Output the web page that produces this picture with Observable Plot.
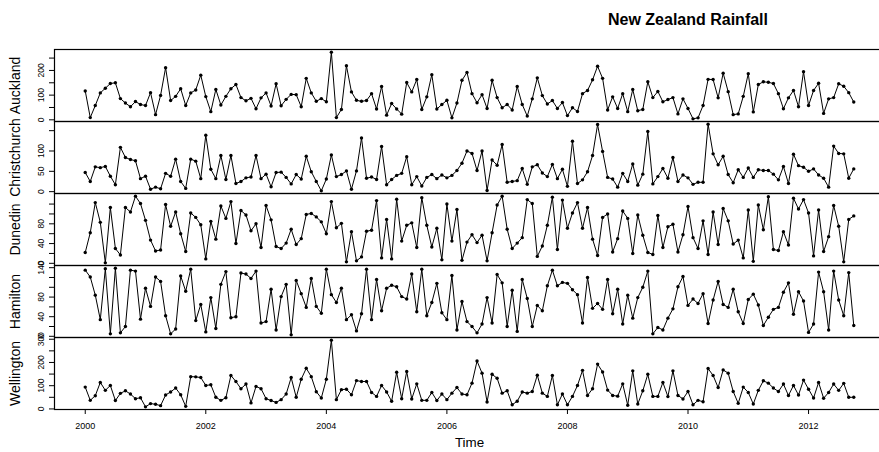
<!DOCTYPE html>
<html><head><meta charset="utf-8">
<script src="https://cdn.jsdelivr.net/npm/d3@7"></script>
<script src="https://cdn.jsdelivr.net/npm/@observablehq/plot@0.6"></script>
<style>
body{margin:0;background:#fff;font-family:"Liberation Sans",Arial,Helvetica,sans-serif;}
#chart{position:relative;width:879px;height:452px;overflow:hidden;background:#fff;}
#title{position:absolute;left:538px;width:300px;top:10px;text-align:center;font-weight:bold;font-size:16px;line-height:20px;color:#000;}
.panel{position:absolute;left:0;}
</style></head><body>
<div id="chart"><div id="title">New Zealand Rainfall</div></div>
<script>
// Monthly rainfall, Jan 2000 – Oct 2012
const startYear = 2000;
const cityNames = ["Auckland", "Christchurch", "Dunedin", "Hamilton", "Wellington"];

const auckland = [117,9,58,109,128,147,150,86,68,53,74,62,58,110,21,99,211,78,95,126,58,109,121,181,94,33,123,60,95,126,143,90,77,87,45,89,109,56,146,
57,83,103,102,53,168,109,75,86,73,274,9,42,219,113,79,75,78,106,44,135,19,66,44,23,151,113,163,42,93,183,44,62,79,8,68,160,192,106,69,102,46,160,90,49,62,40,135,62,15,85,170,98,64,78,46,70,17,49,34,
106,119,162,217,168,40,93,46,106,33,123,37,42,154,90,115,73,82,90,24,85,46,4,8,58,164,163,89,189,114,21,24,95,187,32,143,154,152,147,106,45,89,119,53,195,58,119,148,26,85,90,146,136,110,72];

const christchurch = [47,25,61,59,62,38,17,109,84,79,76,32,38,6,11,7,45,38,80,25,8,80,75,32,139,55,32,89,30,89,20,25,34,36,89,32,43,12,47,
48,35,19,42,31,87,49,25,2,31,90,37,42,51,6,51,132,33,36,30,111,17,30,40,45,86,17,37,14,35,42,32,41,34,40,52,70,100,94,52,100,3,78,65,116,23,25,27,57,18,61,66,46,37,67,32,55,13,124,20,
29,49,89,165,99,35,31,11,45,25,68,16,43,148,19,37,57,33,84,25,41,34,18,23,23,166,93,66,87,42,22,54,35,58,35,54,52,52,43,29,62,20,92,64,60,50,56,41,33,11,112,94,93,33,56];

const dunedin = [22,62,123,83,1,113,30,17,113,104,136,121,87,47,25,27,119,75,104,60,24,102,93,78,9,85,49,116,91,125,40,107,98,66,80,32,117,88,34,
30,41,69,38,50,99,101,94,84,60,125,72,81,3,64,5,13,65,67,127,11,89,9,130,45,77,82,32,133,77,33,71,7,120,45,109,6,43,58,42,57,5,62,118,136,69,30,41,52,129,121,14,35,77,134,28,128,71,102,123,
71,113,49,16,93,100,23,50,106,91,20,98,57,22,18,97,32,74,79,23,58,115,52,30,86,18,104,38,111,86,39,47,11,108,4,118,68,135,28,26,64,37,132,110,129,102,15,108,24,54,117,75,3,89,96];

const hamilton = [135,121,84,34,138,5,139,7,20,135,133,35,98,61,121,112,42,5,15,123,92,137,32,65,9,79,16,106,132,38,40,129,127,118,133,27,30,96,13,
81,106,3,114,87,59,118,61,47,137,85,69,98,34,44,11,46,137,34,116,52,98,104,101,81,76,127,50,137,42,69,108,48,34,124,13,71,30,20,7,25,79,27,126,109,20,94,10,116,77,20,63,52,103,135,103,110,108,95,85,
27,120,57,67,55,116,46,96,25,84,37,79,100,133,5,18,13,37,56,101,122,63,76,67,87,26,74,112,65,59,96,50,26,75,86,64,22,39,55,59,90,109,45,91,72,8,25,131,91,13,133,74,42,130,22];

const wellington = [94,37,57,114,80,101,36,67,78,64,44,48,9,23,20,14,60,73,90,61,11,139,138,135,101,104,50,37,48,144,118,87,107,26,97,87,44,36,28,
40,64,135,50,128,175,139,74,47,128,296,40,83,85,61,122,118,118,71,54,101,73,33,158,44,161,43,108,37,37,71,36,64,40,68,92,64,61,111,206,154,30,149,132,68,78,18,33,73,68,75,145,68,54,144,18,64,18,54,101,
166,58,87,193,159,81,58,55,108,16,164,21,78,149,54,54,114,53,164,58,43,75,18,37,31,174,144,92,168,154,75,24,94,71,21,80,121,111,90,75,107,58,101,60,124,85,47,114,46,71,107,80,110,50,50];

const seriesValues = [auckland, christchurch, dunedin, hamilton, wellington];

// tick marks and tick labels per panel
const yTickMarks = [
  [0,50,100,150,200,250],
  [0,50,100,150],
  [0,20,40,60,80,100,120],
  [0,20,40,60,80,100,120,140],
  [0,50,100,150,200,250,300]
];
const yTickLabels = [
  [0,100,200],
  [0,50,100],
  [0,40,80],
  [0,40,80,140],
  [0,100,200,300]
];
const xTickLabels = [2000,2002,2004,2006,2008,2010,2012];
const xTitle = "Time";

const chart = document.getElementById("chart");
const nMonths = auckland.length;
const tEnd = startYear + (nMonths - 1) / 12;
const tPad = 0.04 * (tEnd - startYear);
const xDomain = [startYear - tPad, tEnd + tPad];

const panelTop = 49, panelH = 72, W = 879;

cityNames.forEach((name, k) => {
  const vals = seriesValues[k];
  const rows = vals.map((v, i) => ({t: startYear + i / 12, v}));
  const [lo, hi] = d3.extent(vals);
  const p = 0.04 * (hi - lo);
  const last = k === cityNames.length - 1;
  const mb = last ? 43 : 0;
  const marks = [
    Plot.line(rows, {x: "t", y: "v", stroke: "black", strokeWidth: 1}),
    Plot.dot(rows, {x: "t", y: "v", r: 1.7, fill: "black", stroke: "none"}),
    Plot.frame({stroke: "black", strokeWidth: 1.2}),
    Plot.axisY({ticks: yTickMarks[k], tickSize: 5, tickFormat: () => "", label: null, stroke: "black"}),
    Plot.text(yTickLabels[k], {y: d => d, text: d => String(d), frameAnchor: "left", dx: -13, rotate: -90, textAnchor: "middle", fontSize: 8.5, fill: "black"}),
    Plot.text([name], {frameAnchor: "left", dx: -39, rotate: -90, textAnchor: "middle", fontSize: 14, fill: "black"})
  ];
  if (last) {
    marks.push(Plot.axisX({ticks: xTickLabels, tickSize: 5, tickPadding: 8, tickFormat: d => String(d), fontSize: 9, label: null, stroke: "black"}));
    marks.push(Plot.text([xTitle], {frameAnchor: "bottom", dy: 37, fontSize: 13.4, fill: "black"}));
  }
  const svg = Plot.plot({
    width: W,
    height: panelH + mb,
    marginLeft: 54,
    marginRight: -5,
    marginTop: 0,
    marginBottom: mb,
    style: {overflow: "visible", background: "transparent", fontFamily: "'Liberation Sans', Arial, sans-serif", color: "black"},
    x: {domain: xDomain, axis: null},
    y: {domain: [lo - p, hi + p], axis: null},
    marks
  });
  svg.classList.add("panel");
  svg.style.position = "absolute";
  svg.style.top = (panelTop + panelH * k) + "px";
  svg.style.left = "0px";
  chart.appendChild(svg);
});
</script>
</body></html>
